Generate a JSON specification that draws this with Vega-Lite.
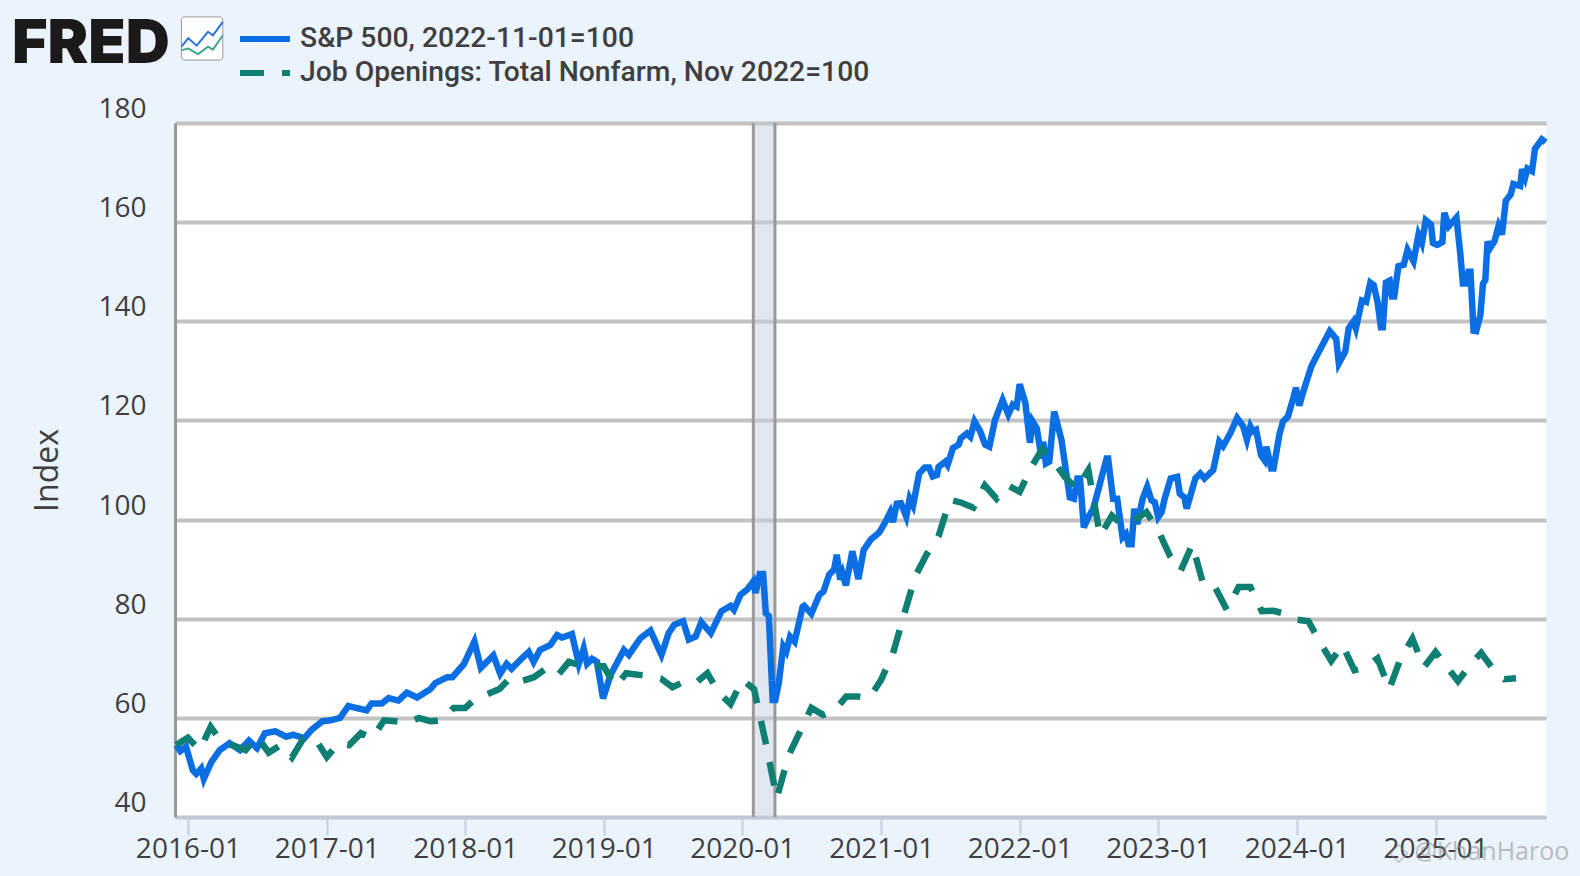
{
  "$schema": "https://vega.github.io/schema/vega-lite/v6.json",
  "autosize": "none",
  "width": 1371,
  "height": 694,
  "padding": {"left": 175, "top": 123, "right": 34, "bottom": 59},
  "background": "#ebf3fc",
  "view": {"fill": "#ffffff", "stroke": null},
  "title": {"text": "FRED", "font": "Inter", "fontWeight": 900, "fontSize": 61, "color": "#1a1a1a", "anchor": "start", "frame": "group", "dx": -163, "offset": -60},
  "datasets": {
    "series": [
      {"date":"2015-12-02","value":54.5,"series":"sp500"},{"date":"2015-12-12","value":53.3,"series":"sp500"},{"date":"2015-12-27","value":54.2,"series":"sp500"},{"date":"2016-01-14","value":49.4,"series":"sp500"},{"date":"2016-01-23","value":48.7,"series":"sp500"},{"date":"2016-02-05","value":49.8,"series":"sp500"},{"date":"2016-02-12","value":47.7,"series":"sp500"},{"date":"2016-03-03","value":51.1,"series":"sp500"},{"date":"2016-03-25","value":53.5,"series":"sp500"},{"date":"2016-04-20","value":54.9,"series":"sp500"},{"date":"2016-05-17","value":53.5,"series":"sp500"},{"date":"2016-06-10","value":55.4,"series":"sp500"},{"date":"2016-07-01","value":53.9,"series":"sp500"},{"date":"2016-07-22","value":56.9,"series":"sp500"},{"date":"2016-08-18","value":57.3,"series":"sp500"},{"date":"2016-09-16","value":56.2,"series":"sp500"},{"date":"2016-10-04","value":56.6,"series":"sp500"},{"date":"2016-11-03","value":55.9,"series":"sp500"},{"date":"2016-11-22","value":57.6,"series":"sp500"},{"date":"2016-12-20","value":59.3,"series":"sp500"},
      {"date":"2017-01-10","value":59.5,"series":"sp500"},{"date":"2017-02-05","value":60,"series":"sp500"},{"date":"2017-02-27","value":62.4,"series":"sp500"},{"date":"2017-03-20","value":62,"series":"sp500"},{"date":"2017-04-16","value":61.5,"series":"sp500"},{"date":"2017-04-29","value":62.9,"series":"sp500"},{"date":"2017-05-26","value":62.9,"series":"sp500"},{"date":"2017-06-13","value":64,"series":"sp500"},{"date":"2017-07-09","value":63.5,"series":"sp500"},{"date":"2017-07-31","value":65.1,"series":"sp500"},{"date":"2017-08-27","value":64.1,"series":"sp500"},{"date":"2017-10-01","value":65.8,"series":"sp500"},{"date":"2017-10-14","value":67,"series":"sp500"},{"date":"2017-11-14","value":68.2,"series":"sp500"},{"date":"2017-11-28","value":68.2,"series":"sp500"},{"date":"2017-12-28","value":70.8,"series":"sp500"},
      {"date":"2018-01-25","value":75.4,"series":"sp500"},{"date":"2018-02-11","value":70.1,"series":"sp500"},{"date":"2018-03-16","value":72.6,"series":"sp500"},{"date":"2018-04-03","value":68.9,"series":"sp500"},{"date":"2018-04-20","value":70.9,"series":"sp500"},{"date":"2018-05-03","value":69.9,"series":"sp500"},{"date":"2018-05-26","value":71.7,"series":"sp500"},{"date":"2018-06-17","value":73.3,"series":"sp500"},{"date":"2018-06-30","value":71.3,"series":"sp500"},{"date":"2018-07-17","value":73.7,"series":"sp500"},{"date":"2018-08-13","value":74.7,"series":"sp500"},{"date":"2018-08-31","value":76.7,"series":"sp500"},{"date":"2018-09-13","value":76.2,"series":"sp500"},{"date":"2018-10-09","value":76.9,"series":"sp500"},{"date":"2018-10-27","value":70.9,"series":"sp500"},{"date":"2018-11-09","value":74,"series":"sp500"},{"date":"2018-11-18","value":70.9,"series":"sp500"},{"date":"2018-12-01","value":71.9,"series":"sp500"},{"date":"2018-12-14","value":71.3,"series":"sp500"},{"date":"2018-12-30","value":63.9,"series":"sp500"},
      {"date":"2019-01-19","value":68.7,"series":"sp500"},{"date":"2019-02-23","value":73.7,"series":"sp500"},{"date":"2019-03-08","value":72.7,"series":"sp500"},{"date":"2019-03-26","value":74.7,"series":"sp500"},{"date":"2019-04-08","value":76.1,"series":"sp500"},{"date":"2019-05-04","value":77.6,"series":"sp500"},{"date":"2019-06-02","value":72.7,"series":"sp500"},{"date":"2019-06-21","value":77.1,"series":"sp500"},{"date":"2019-07-06","value":78.8,"series":"sp500"},{"date":"2019-07-29","value":79.5,"series":"sp500"},{"date":"2019-08-13","value":75.8,"series":"sp500"},{"date":"2019-08-31","value":76.4,"series":"sp500"},{"date":"2019-09-15","value":79.3,"series":"sp500"},{"date":"2019-10-10","value":77.1,"series":"sp500"},{"date":"2019-11-07","value":81.5,"series":"sp500"},{"date":"2019-12-01","value":82.6,"series":"sp500"},{"date":"2019-12-10","value":81.8,"series":"sp500"},{"date":"2019-12-27","value":84.8,"series":"sp500"},
      {"date":"2020-01-14","value":85.9,"series":"sp500"},{"date":"2020-01-30","value":87.5,"series":"sp500"},{"date":"2020-02-05","value":85.2,"series":"sp500"},{"date":"2020-02-16","value":89,"series":"sp500"},{"date":"2020-02-25","value":89,"series":"sp500"},{"date":"2020-03-03","value":81.1,"series":"sp500"},{"date":"2020-03-11","value":80.5,"series":"sp500"},{"date":"2020-03-21","value":63.6,"series":"sp500"},{"date":"2020-03-28","value":63.6,"series":"sp500"},{"date":"2020-04-06","value":67,"series":"sp500"},{"date":"2020-04-18","value":74.4,"series":"sp500"},{"date":"2020-04-26","value":73.4,"series":"sp500"},{"date":"2020-05-06","value":76.4,"series":"sp500"},{"date":"2020-05-18","value":75.4,"series":"sp500"},{"date":"2020-06-08","value":82.4,"series":"sp500"},{"date":"2020-06-12","value":82.6,"series":"sp500"},{"date":"2020-07-01","value":81,"series":"sp500"},{"date":"2020-07-22","value":84.8,"series":"sp500"},{"date":"2020-08-02","value":85.5,"series":"sp500"},{"date":"2020-08-17","value":88.9,"series":"sp500"},{"date":"2020-08-30","value":89.9,"series":"sp500"},{"date":"2020-09-06","value":92.9,"series":"sp500"},{"date":"2020-09-15","value":87.9,"series":"sp500"},{"date":"2020-09-21","value":89.2,"series":"sp500"},{"date":"2020-09-30","value":86.7,"series":"sp500"},{"date":"2020-10-17","value":93.6,"series":"sp500"},{"date":"2020-11-02","value":88,"series":"sp500"},{"date":"2020-11-16","value":93.9,"series":"sp500"},{"date":"2020-12-05","value":96,"series":"sp500"},{"date":"2020-12-27","value":97.4,"series":"sp500"},
      {"date":"2021-01-12","value":99.5,"series":"sp500"},{"date":"2021-01-25","value":101.5,"series":"sp500"},{"date":"2021-02-01","value":99.5,"series":"sp500"},{"date":"2021-02-11","value":103.2,"series":"sp500"},{"date":"2021-02-22","value":103.3,"series":"sp500"},{"date":"2021-03-08","value":100.6,"series":"sp500"},{"date":"2021-03-17","value":104.2,"series":"sp500"},{"date":"2021-03-26","value":102.8,"series":"sp500"},{"date":"2021-04-11","value":109.3,"series":"sp500"},{"date":"2021-04-26","value":110.5,"series":"sp500"},{"date":"2021-05-07","value":110.5,"series":"sp500"},{"date":"2021-05-17","value":108.7,"series":"sp500"},{"date":"2021-05-28","value":109,"series":"sp500"},{"date":"2021-06-01","value":110.6,"series":"sp500"},{"date":"2021-06-19","value":111.7,"series":"sp500"},{"date":"2021-06-25","value":111,"series":"sp500"},{"date":"2021-07-09","value":114.4,"series":"sp500"},{"date":"2021-07-24","value":115.1,"series":"sp500"},{"date":"2021-07-30","value":116.4,"series":"sp500"},{"date":"2021-08-15","value":117.4,"series":"sp500"},{"date":"2021-08-24","value":116.7,"series":"sp500"},{"date":"2021-09-04","value":119.8,"series":"sp500"},{"date":"2021-09-19","value":117.8,"series":"sp500"},{"date":"2021-10-02","value":115.1,"series":"sp500"},{"date":"2021-10-13","value":114.7,"series":"sp500"},{"date":"2021-10-28","value":120.1,"series":"sp500"},{"date":"2021-11-17","value":124.1,"series":"sp500"},{"date":"2021-12-02","value":121.2,"series":"sp500"},{"date":"2021-12-14","value":123.2,"series":"sp500"},{"date":"2021-12-24","value":122.8,"series":"sp500"},
      {"date":"2022-01-01","value":127.3,"series":"sp500"},{"date":"2022-01-16","value":123.5,"series":"sp500"},{"date":"2022-01-28","value":115.5,"series":"sp500"},{"date":"2022-02-04","value":119.8,"series":"sp500"},{"date":"2022-02-15","value":118.4,"series":"sp500"},{"date":"2022-02-28","value":112.3,"series":"sp500"},{"date":"2022-03-04","value":115.7,"series":"sp500"},{"date":"2022-03-11","value":111.3,"series":"sp500"},{"date":"2022-03-20","value":111.7,"series":"sp500"},{"date":"2022-04-02","value":121.8,"series":"sp500"},{"date":"2022-04-21","value":116.1,"series":"sp500"},{"date":"2022-05-02","value":110.3,"series":"sp500"},{"date":"2022-05-13","value":104.5,"series":"sp500"},{"date":"2022-05-24","value":104.2,"series":"sp500"},{"date":"2022-06-02","value":108.3,"series":"sp500"},{"date":"2022-06-09","value":108.3,"series":"sp500"},{"date":"2022-06-19","value":98.4,"series":"sp500"},{"date":"2022-07-01","value":100.5,"series":"sp500"},{"date":"2022-07-14","value":102.2,"series":"sp500"},{"date":"2022-08-18","value":112.3,"series":"sp500"},{"date":"2022-08-22","value":112.3,"series":"sp500"},{"date":"2022-09-04","value":104.2,"series":"sp500"},{"date":"2022-09-15","value":104.2,"series":"sp500"},{"date":"2022-09-29","value":96.4,"series":"sp500"},{"date":"2022-10-08","value":97.1,"series":"sp500"},{"date":"2022-10-15","value":95,"series":"sp500"},{"date":"2022-10-23","value":95,"series":"sp500"},{"date":"2022-10-30","value":102.2,"series":"sp500"},{"date":"2022-11-07","value":99.1,"series":"sp500"},{"date":"2022-11-21","value":104.2,"series":"sp500"},{"date":"2022-12-03","value":106.6,"series":"sp500"},{"date":"2022-12-14","value":103.9,"series":"sp500"},{"date":"2022-12-23","value":103.5,"series":"sp500"},
      {"date":"2023-01-01","value":100.5,"series":"sp500"},{"date":"2023-01-10","value":101.5,"series":"sp500"},{"date":"2023-01-18","value":104.2,"series":"sp500"},{"date":"2023-02-03","value":108.3,"series":"sp500"},{"date":"2023-02-20","value":108.6,"series":"sp500"},{"date":"2023-02-27","value":105.2,"series":"sp500"},{"date":"2023-03-11","value":104.5,"series":"sp500"},{"date":"2023-03-17","value":102.2,"series":"sp500"},{"date":"2023-04-09","value":108.3,"series":"sp500"},{"date":"2023-04-22","value":109.3,"series":"sp500"},{"date":"2023-05-03","value":108.3,"series":"sp500"},{"date":"2023-05-26","value":110,"series":"sp500"},{"date":"2023-06-11","value":115.7,"series":"sp500"},{"date":"2023-06-21","value":114.8,"series":"sp500"},{"date":"2023-07-10","value":117.4,"series":"sp500"},{"date":"2023-07-28","value":120.5,"series":"sp500"},{"date":"2023-08-13","value":118.8,"series":"sp500"},{"date":"2023-08-23","value":116.1,"series":"sp500"},{"date":"2023-09-01","value":118.8,"series":"sp500"},{"date":"2023-09-08","value":117.8,"series":"sp500"},{"date":"2023-09-16","value":118.1,"series":"sp500"},{"date":"2023-09-29","value":113,"series":"sp500"},{"date":"2023-10-08","value":112,"series":"sp500"},{"date":"2023-10-13","value":114.7,"series":"sp500"},{"date":"2023-10-26","value":110.3,"series":"sp500"},{"date":"2023-11-01","value":110.3,"series":"sp500"},{"date":"2023-11-17","value":117.4,"series":"sp500"},{"date":"2023-11-26","value":119.8,"series":"sp500"},{"date":"2023-12-09","value":120.8,"series":"sp500"},{"date":"2023-12-23","value":124.5,"series":"sp500"},{"date":"2023-12-30","value":126.6,"series":"sp500"},
      {"date":"2024-01-08","value":123,"series":"sp500"},{"date":"2024-01-18","value":125.7,"series":"sp500"},{"date":"2024-02-09","value":131,"series":"sp500"},{"date":"2024-03-06","value":134.8,"series":"sp500"},{"date":"2024-03-28","value":138,"series":"sp500"},{"date":"2024-04-14","value":136.5,"series":"sp500"},{"date":"2024-04-21","value":131.5,"series":"sp500"},{"date":"2024-05-08","value":133.9,"series":"sp500"},{"date":"2024-05-17","value":138.6,"series":"sp500"},{"date":"2024-05-30","value":140,"series":"sp500"},{"date":"2024-06-05","value":138.6,"series":"sp500"},{"date":"2024-06-21","value":144.2,"series":"sp500"},{"date":"2024-07-02","value":143.9,"series":"sp500"},{"date":"2024-07-13","value":147.8,"series":"sp500"},{"date":"2024-07-22","value":147.3,"series":"sp500"},{"date":"2024-08-01","value":143.9,"series":"sp500"},{"date":"2024-08-10","value":138.8,"series":"sp500"},{"date":"2024-08-15","value":138.8,"series":"sp500"},{"date":"2024-08-23","value":147.8,"series":"sp500"},{"date":"2024-09-02","value":148.2,"series":"sp500"},{"date":"2024-09-08","value":145,"series":"sp500"},{"date":"2024-09-14","value":145,"series":"sp500"},{"date":"2024-09-25","value":151.1,"series":"sp500"},{"date":"2024-10-09","value":151.4,"series":"sp500"},{"date":"2024-10-19","value":154.4,"series":"sp500"},{"date":"2024-11-04","value":152.1,"series":"sp500"},{"date":"2024-11-17","value":157.5,"series":"sp500"},{"date":"2024-11-26","value":155.8,"series":"sp500"},{"date":"2024-12-06","value":160.4,"series":"sp500"},{"date":"2024-12-20","value":159.5,"series":"sp500"},{"date":"2024-12-25","value":155.8,"series":"sp500"},
      {"date":"2025-01-05","value":155.4,"series":"sp500"},{"date":"2025-01-19","value":156,"series":"sp500"},{"date":"2025-01-24","value":161.9,"series":"sp500"},{"date":"2025-02-05","value":159.2,"series":"sp500"},{"date":"2025-02-25","value":160.9,"series":"sp500"},{"date":"2025-03-07","value":153.7,"series":"sp500"},{"date":"2025-03-14","value":147.6,"series":"sp500"},{"date":"2025-03-23","value":147.6,"series":"sp500"},{"date":"2025-03-29","value":150,"series":"sp500"},{"date":"2025-04-03","value":150,"series":"sp500"},{"date":"2025-04-11","value":138.1,"series":"sp500"},{"date":"2025-04-18","value":138,"series":"sp500"},{"date":"2025-04-29","value":141.2,"series":"sp500"},{"date":"2025-05-06","value":147.6,"series":"sp500"},{"date":"2025-05-12","value":148.3,"series":"sp500"},{"date":"2025-05-18","value":156.1,"series":"sp500"},{"date":"2025-05-25","value":154.8,"series":"sp500"},{"date":"2025-06-05","value":156.1,"series":"sp500"},{"date":"2025-06-16","value":159.2,"series":"sp500"},{"date":"2025-06-25","value":157.5,"series":"sp500"},{"date":"2025-07-05","value":164.3,"series":"sp500"},{"date":"2025-07-18","value":165.6,"series":"sp500"},{"date":"2025-07-25","value":167.7,"series":"sp500"},{"date":"2025-08-12","value":167.3,"series":"sp500"},{"date":"2025-08-17","value":170.7,"series":"sp500"},{"date":"2025-08-25","value":169,"series":"sp500"},{"date":"2025-08-31","value":170.8,"series":"sp500"},{"date":"2025-09-12","value":170.3,"series":"sp500"},{"date":"2025-09-20","value":174.8,"series":"sp500"},{"date":"2025-10-08","value":176.7,"series":"sp500"},{"date":"2025-10-18","value":176.1,"series":"sp500"},
      {"date":"2015-12-01","value":54.5,"series":"jobs"},{"date":"2016-01-01","value":56,"series":"jobs"},{"date":"2016-02-01","value":53.5,"series":"jobs"},{"date":"2016-03-01","value":58.2,"series":"jobs"},{"date":"2016-04-01","value":54.9,"series":"jobs"},{"date":"2016-05-01","value":54.4,"series":"jobs"},{"date":"2016-06-01","value":53.5,"series":"jobs"},{"date":"2016-07-01","value":56.2,"series":"jobs"},{"date":"2016-08-01","value":53,"series":"jobs"},{"date":"2016-09-01","value":54.5,"series":"jobs"},{"date":"2016-10-01","value":52,"series":"jobs"},{"date":"2016-11-01","value":55.9,"series":"jobs"},{"date":"2016-12-01","value":55.8,"series":"jobs"},
      {"date":"2017-01-01","value":52.1,"series":"jobs"},{"date":"2017-02-01","value":54.9,"series":"jobs"},{"date":"2017-03-01","value":54.5,"series":"jobs"},{"date":"2017-04-01","value":56.9,"series":"jobs"},{"date":"2017-05-01","value":55.9,"series":"jobs"},{"date":"2017-06-01","value":59.5,"series":"jobs"},{"date":"2017-07-01","value":59.3,"series":"jobs"},{"date":"2017-08-01","value":59,"series":"jobs"},{"date":"2017-09-01","value":60,"series":"jobs"},{"date":"2017-10-01","value":59.3,"series":"jobs"},{"date":"2017-11-01","value":59.5,"series":"jobs"},{"date":"2017-12-01","value":62,"series":"jobs"},
      {"date":"2018-01-01","value":62,"series":"jobs"},{"date":"2018-02-01","value":64.2,"series":"jobs"},{"date":"2018-03-01","value":64.8,"series":"jobs"},{"date":"2018-04-01","value":65.8,"series":"jobs"},{"date":"2018-05-01","value":68.2,"series":"jobs"},{"date":"2018-06-01","value":67.5,"series":"jobs"},{"date":"2018-07-01","value":68.2,"series":"jobs"},{"date":"2018-08-01","value":69.9,"series":"jobs"},{"date":"2018-09-01","value":68.5,"series":"jobs"},{"date":"2018-10-01","value":71.3,"series":"jobs"},{"date":"2018-11-01","value":70.6,"series":"jobs"},{"date":"2018-12-01","value":70.4,"series":"jobs"},
      {"date":"2019-01-01","value":70.4,"series":"jobs"},{"date":"2019-02-01","value":66.3,"series":"jobs"},{"date":"2019-03-01","value":69,"series":"jobs"},{"date":"2019-04-01","value":68.7,"series":"jobs"},{"date":"2019-05-01","value":68.5,"series":"jobs"},{"date":"2019-06-01","value":67.9,"series":"jobs"},{"date":"2019-07-01","value":66.2,"series":"jobs"},{"date":"2019-08-01","value":67.3,"series":"jobs"},{"date":"2019-09-01","value":67.1,"series":"jobs"},{"date":"2019-10-01","value":69,"series":"jobs"},{"date":"2019-11-01","value":65,"series":"jobs"},{"date":"2019-12-01","value":62.8,"series":"jobs"},
      {"date":"2020-01-01","value":67.7,"series":"jobs"},{"date":"2020-02-01","value":65.8,"series":"jobs"},{"date":"2020-03-01","value":55.6,"series":"jobs"},{"date":"2020-04-01","value":43.8,"series":"jobs"},{"date":"2020-05-01","value":52.2,"series":"jobs"},{"date":"2020-06-01","value":57.2,"series":"jobs"},{"date":"2020-07-01","value":62,"series":"jobs"},{"date":"2020-08-01","value":60.6,"series":"jobs"},{"date":"2020-09-01","value":61.6,"series":"jobs"},{"date":"2020-10-01","value":64.3,"series":"jobs"},{"date":"2020-11-01","value":64.3,"series":"jobs"},{"date":"2020-12-01","value":64,"series":"jobs"},
      {"date":"2021-01-01","value":67.7,"series":"jobs"},{"date":"2021-02-01","value":73,"series":"jobs"},{"date":"2021-03-01","value":80.5,"series":"jobs"},{"date":"2021-04-01","value":88.6,"series":"jobs"},{"date":"2021-05-01","value":93,"series":"jobs"},{"date":"2021-06-01","value":96.6,"series":"jobs"},{"date":"2021-07-01","value":104,"series":"jobs"},{"date":"2021-08-01","value":103.4,"series":"jobs"},{"date":"2021-09-01","value":102.4,"series":"jobs"},{"date":"2021-10-01","value":106.9,"series":"jobs"},{"date":"2021-11-01","value":104.2,"series":"jobs"},{"date":"2021-12-01","value":106.9,"series":"jobs"},
      {"date":"2022-01-01","value":105.6,"series":"jobs"},{"date":"2022-02-01","value":110.6,"series":"jobs"},{"date":"2022-03-01","value":114.2,"series":"jobs"},{"date":"2022-04-01","value":111.7,"series":"jobs"},{"date":"2022-05-01","value":108.5,"series":"jobs"},{"date":"2022-06-01","value":106.2,"series":"jobs"},{"date":"2022-07-01","value":110,"series":"jobs"},{"date":"2022-08-01","value":96.7,"series":"jobs"},{"date":"2022-09-01","value":100.8,"series":"jobs"},{"date":"2022-10-01","value":98.8,"series":"jobs"},{"date":"2022-11-01","value":100,"series":"jobs"},{"date":"2022-12-01","value":101.5,"series":"jobs"},
      {"date":"2023-01-01","value":97.8,"series":"jobs"},{"date":"2023-02-01","value":92.7,"series":"jobs"},{"date":"2023-03-01","value":89.6,"series":"jobs"},{"date":"2023-04-01","value":95,"series":"jobs"},{"date":"2023-05-01","value":86.6,"series":"jobs"},{"date":"2023-06-01","value":86.2,"series":"jobs"},{"date":"2023-07-01","value":81.8,"series":"jobs"},{"date":"2023-08-01","value":86.4,"series":"jobs"},{"date":"2023-09-01","value":86.4,"series":"jobs"},{"date":"2023-10-01","value":81.5,"series":"jobs"},{"date":"2023-11-01","value":81.6,"series":"jobs"},{"date":"2023-12-01","value":81,"series":"jobs"},
      {"date":"2024-01-01","value":79.8,"series":"jobs"},{"date":"2024-02-01","value":79.5,"series":"jobs"},{"date":"2024-03-01","value":75.4,"series":"jobs"},{"date":"2024-04-01","value":71.5,"series":"jobs"},{"date":"2024-05-01","value":74.7,"series":"jobs"},{"date":"2024-06-01","value":69.6,"series":"jobs"},{"date":"2024-07-01","value":70.2,"series":"jobs"},{"date":"2024-08-01","value":72,"series":"jobs"},{"date":"2024-09-01","value":65.8,"series":"jobs"},{"date":"2024-10-01","value":72,"series":"jobs"},{"date":"2024-11-01","value":76,"series":"jobs"},{"date":"2024-12-01","value":70.2,"series":"jobs"},
      {"date":"2025-01-01","value":73.3,"series":"jobs"},{"date":"2025-02-01","value":70.2,"series":"jobs"},{"date":"2025-03-01","value":67.4,"series":"jobs"},{"date":"2025-04-01","value":70.6,"series":"jobs"},{"date":"2025-05-01","value":73.1,"series":"jobs"},{"date":"2025-06-01","value":69.9,"series":"jobs"},{"date":"2025-07-01","value":67.8,"series":"jobs"},{"date":"2025-08-01","value":68,"series":"jobs"}
    ],
    "recession": [{"start": "2020-01-30", "end": "2020-03-27"}],
    "icon_box": [{"start": "2015-12-15", "end": "2016-04-02", "low": 192.7, "high": 201.4}],
    "icon_blue": [
      {"date":"2015-12-15","value":195.4},{"date":"2016-01-02","value":197.1},{"date":"2016-01-24","value":195.6},{"date":"2016-02-23","value":198.4},{"date":"2016-03-07","value":197.7},{"date":"2016-04-02","value":200.4}
    ],
    "icon_green": [
      {"date":"2015-12-15","value":194.7},{"date":"2016-01-02","value":195},{"date":"2016-01-28","value":193.9},{"date":"2016-02-23","value":195.4},{"date":"2016-03-07","value":194.8},{"date":"2016-04-02","value":197.7}
    ],
    "watermark": [{"date": "2024-08-31", "value": 32.9, "label": "◇ @KhanHaroo"}]
  },
  "layer": [
    {
      "data": {"name": "recession"},
      "mark": {"type": "rect", "color": "#c3cde0", "opacity": 0.5},
      "encoding": {
        "x": {"field": "start", "type": "temporal"},
        "x2": {"field": "end"}
      }
    },
    {
      "data": {"name": "recession"},
      "mark": {"type": "rule", "color": "#999999", "strokeWidth": 3},
      "encoding": {"x": {"field": "start", "type": "temporal"}}
    },
    {
      "data": {"name": "recession"},
      "mark": {"type": "rule", "color": "#999999", "strokeWidth": 3},
      "encoding": {"x": {"field": "end", "type": "temporal"}}
    },
    {
      "data": {"name": "series"},
      "mark": {"type": "line", "strokeWidth": 6.5, "strokeJoin": "miter"},
      "encoding": {
        "x": {
          "field": "date",
          "type": "temporal",
          "title": null,
          "scale": {
            "type": "utc",
            "domain": [
              {"year": 2015, "month": 11, "date": 28, "utc": true},
              {"year": 2025, "month": 10, "date": 19, "utc": true}
            ]
          },
          "axis": {
            "format": "%Y-%m",
            "tickCount": "year",
            "grid": false,
            "domainColor": "#c0c8d6",
            "domainWidth": 3,
            "tickColor": "#c0d0e0",
            "tickWidth": 2,
            "tickSize": 18,
            "labelPadding": 0,
            "labelFont": "Open Sans",
            "labelFontSize": 28,
            "labelColor": "#3f3f3f",
            "labelFlush": false,
            "labelOverlap": false
          }
        },
        "y": {
          "field": "value",
          "type": "quantitative",
          "title": "Index",
          "scale": {"domain": [40, 180], "nice": false},
          "axis": {
            "values": [40, 60, 80, 100, 120, 140, 160, 180],
            "grid": true,
            "gridColor": "#c2c2c2",
            "gridWidth": 4,
            "domainColor": "#999999",
            "domainWidth": 3,
            "ticks": false,
            "labelPadding": 29,
            "labelOffset": -13.5,
            "labelFont": "Open Sans",
            "labelFontSize": 28,
            "labelColor": "#3f3f3f",
            "titleFont": "Open Sans",
            "titleFontSize": 32,
            "titleFontWeight": "normal",
            "titleColor": "#3f3f3f",
            "titlePadding": 33
          }
        },
        "color": {
          "field": "series",
          "type": "nominal",
          "sort": null,
          "scale": {"domain": ["sp500", "jobs"], "range": ["#0b6fe3", "#0f7f73"]},
          "legend": {
            "title": null,
            "orient": "none",
            "legendX": 62,
            "legendY": -101,
            "symbolType": "stroke",
            "symbolSize": 2500,
            "symbolStrokeWidth": 6,
            "labelFont": "Roboto",
            "labelFontSize": 28.3,
            "labelFontWeight": 500,
            "labelColor": "#3f3f3f",
            "labelLimit": 700,
            "labelOffset": 7,
            "clipHeight": 34,
            "rowPadding": 0,
            "labelExpr": "datum.value == 'sp500' ? 'S&P 500, 2022-11-01=100' : 'Job Openings: Total Nonfarm, Nov 2022=100'"
          }
        },
        "strokeDash": {
          "field": "series",
          "type": "nominal",
          "sort": null,
          "scale": {"domain": ["sp500", "jobs"], "range": [[1, 0], [24, 18]]},
          "legend": null
        }
      }
    },
    {
      "data": {"name": "icon_box"},
      "mark": {"type": "rect", "fill": "#ffffff", "stroke": "#999999", "strokeWidth": 1, "cornerRadius": 3},
      "encoding": {
        "x": {"field": "start", "type": "temporal"},
        "x2": {"field": "end"},
        "y": {"field": "low", "type": "quantitative"},
        "y2": {"field": "high"}
      }
    },
    {
      "data": {"name": "icon_blue"},
      "mark": {"type": "line", "color": "#2d74d8", "strokeWidth": 2},
      "encoding": {
        "x": {"field": "date", "type": "temporal"},
        "y": {"field": "value", "type": "quantitative"}
      }
    },
    {
      "data": {"name": "icon_green"},
      "mark": {"type": "line", "color": "#3fa58c", "strokeWidth": 2},
      "encoding": {
        "x": {"field": "date", "type": "temporal"},
        "y": {"field": "value", "type": "quantitative"}
      }
    },
    {
      "data": {"name": "watermark"},
      "mark": {"type": "text", "align": "left", "baseline": "middle", "font": "Open Sans", "fontSize": 25, "color": "#8f8f8f", "opacity": 0.55},
      "encoding": {
        "x": {"field": "date", "type": "temporal"},
        "y": {"field": "value", "type": "quantitative"},
        "text": {"field": "label"}
      }
    }
  ]
}
